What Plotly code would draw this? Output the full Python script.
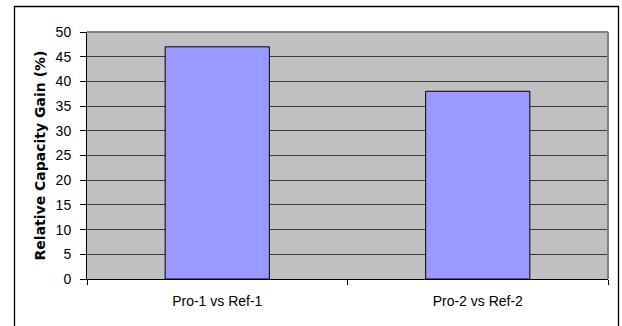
import plotly.graph_objects as go

# Chart data
categories = ["Pro-1 vs Ref-1", "Pro-2 vs Ref-2"]
capacity_gain = [47, 38]
y_ticks = [0, 5, 10, 15, 20, 25, 30, 35, 40, 45, 50]

W, H = 622, 326
L, R, T, B = 87, 14, 32, 47
pw, ph = W - L - R, H - T - B


def px_x(p):
    return (p - L) / pw


def px_y(p):
    return (H - B - p) / ph


fig = go.Figure(
    go.Bar(
        x=categories,
        y=capacity_gain,
        marker=dict(color="#9999FF", line=dict(color="#000000", width=1)),
        hoverinfo="x+y",
    )
)

tick_font = dict(family="Liberation Sans, Arial, sans-serif", size=14, color="#000000")

fig.update_layout(
    width=W,
    height=H,
    margin=dict(l=L, r=R, t=T, b=B, autoexpand=False),
    paper_bgcolor="#FFFFFF",
    plot_bgcolor="#C0C0C0",
    bargap=0.6,
    showlegend=False,
    xaxis=dict(
        type="category",
        showgrid=False,
        showline=True,
        linecolor="#000000",
        linewidth=1,
        ticks="outside",
        tickson="boundaries",
        ticklen=5,
        tickcolor="#000000",
        tickfont=tick_font,
        ticklabelstandoff=9,
        zeroline=False,
    ),
    yaxis=dict(
        range=[0, 50],
        tickvals=y_ticks,
        showgrid=True,
        gridcolor="#3a3a3a",
        gridwidth=1,
        showline=True,
        linecolor="#000000",
        linewidth=1,
        ticks="outside",
        ticklen=6,
        tickcolor="#000000",
        tickfont=tick_font,
        ticklabelstandoff=6,
        zeroline=False,
        title=dict(
            text="Relative Capacity Gain (%)",
            font=dict(family="DejaVu Sans", size=14, color="#000000", weight="bold"),
            standoff=6,
        ),
        automargin=False,
    ),
    shapes=[
        # plot-area top and right edges
        dict(type="line", xref="paper", yref="paper", x0=0, x1=1, y0=1, y1=1,
             line=dict(color="#808080", width=2)),
        dict(type="line", xref="paper", yref="paper", x0=1, x1=1, y0=0, y1=1,
             line=dict(color="#808080", width=2)),
        # chart frame
        dict(type="rect", xref="paper", yref="paper",
             x0=px_x(14.5), x1=px_x(618.5), y0=px_y(340), y1=px_y(6.5),
             line=dict(color="#000000", width=1.3), fillcolor="rgba(0,0,0,0)",
             layer="above"),
    ],
)

fig.write_html("out.html")
